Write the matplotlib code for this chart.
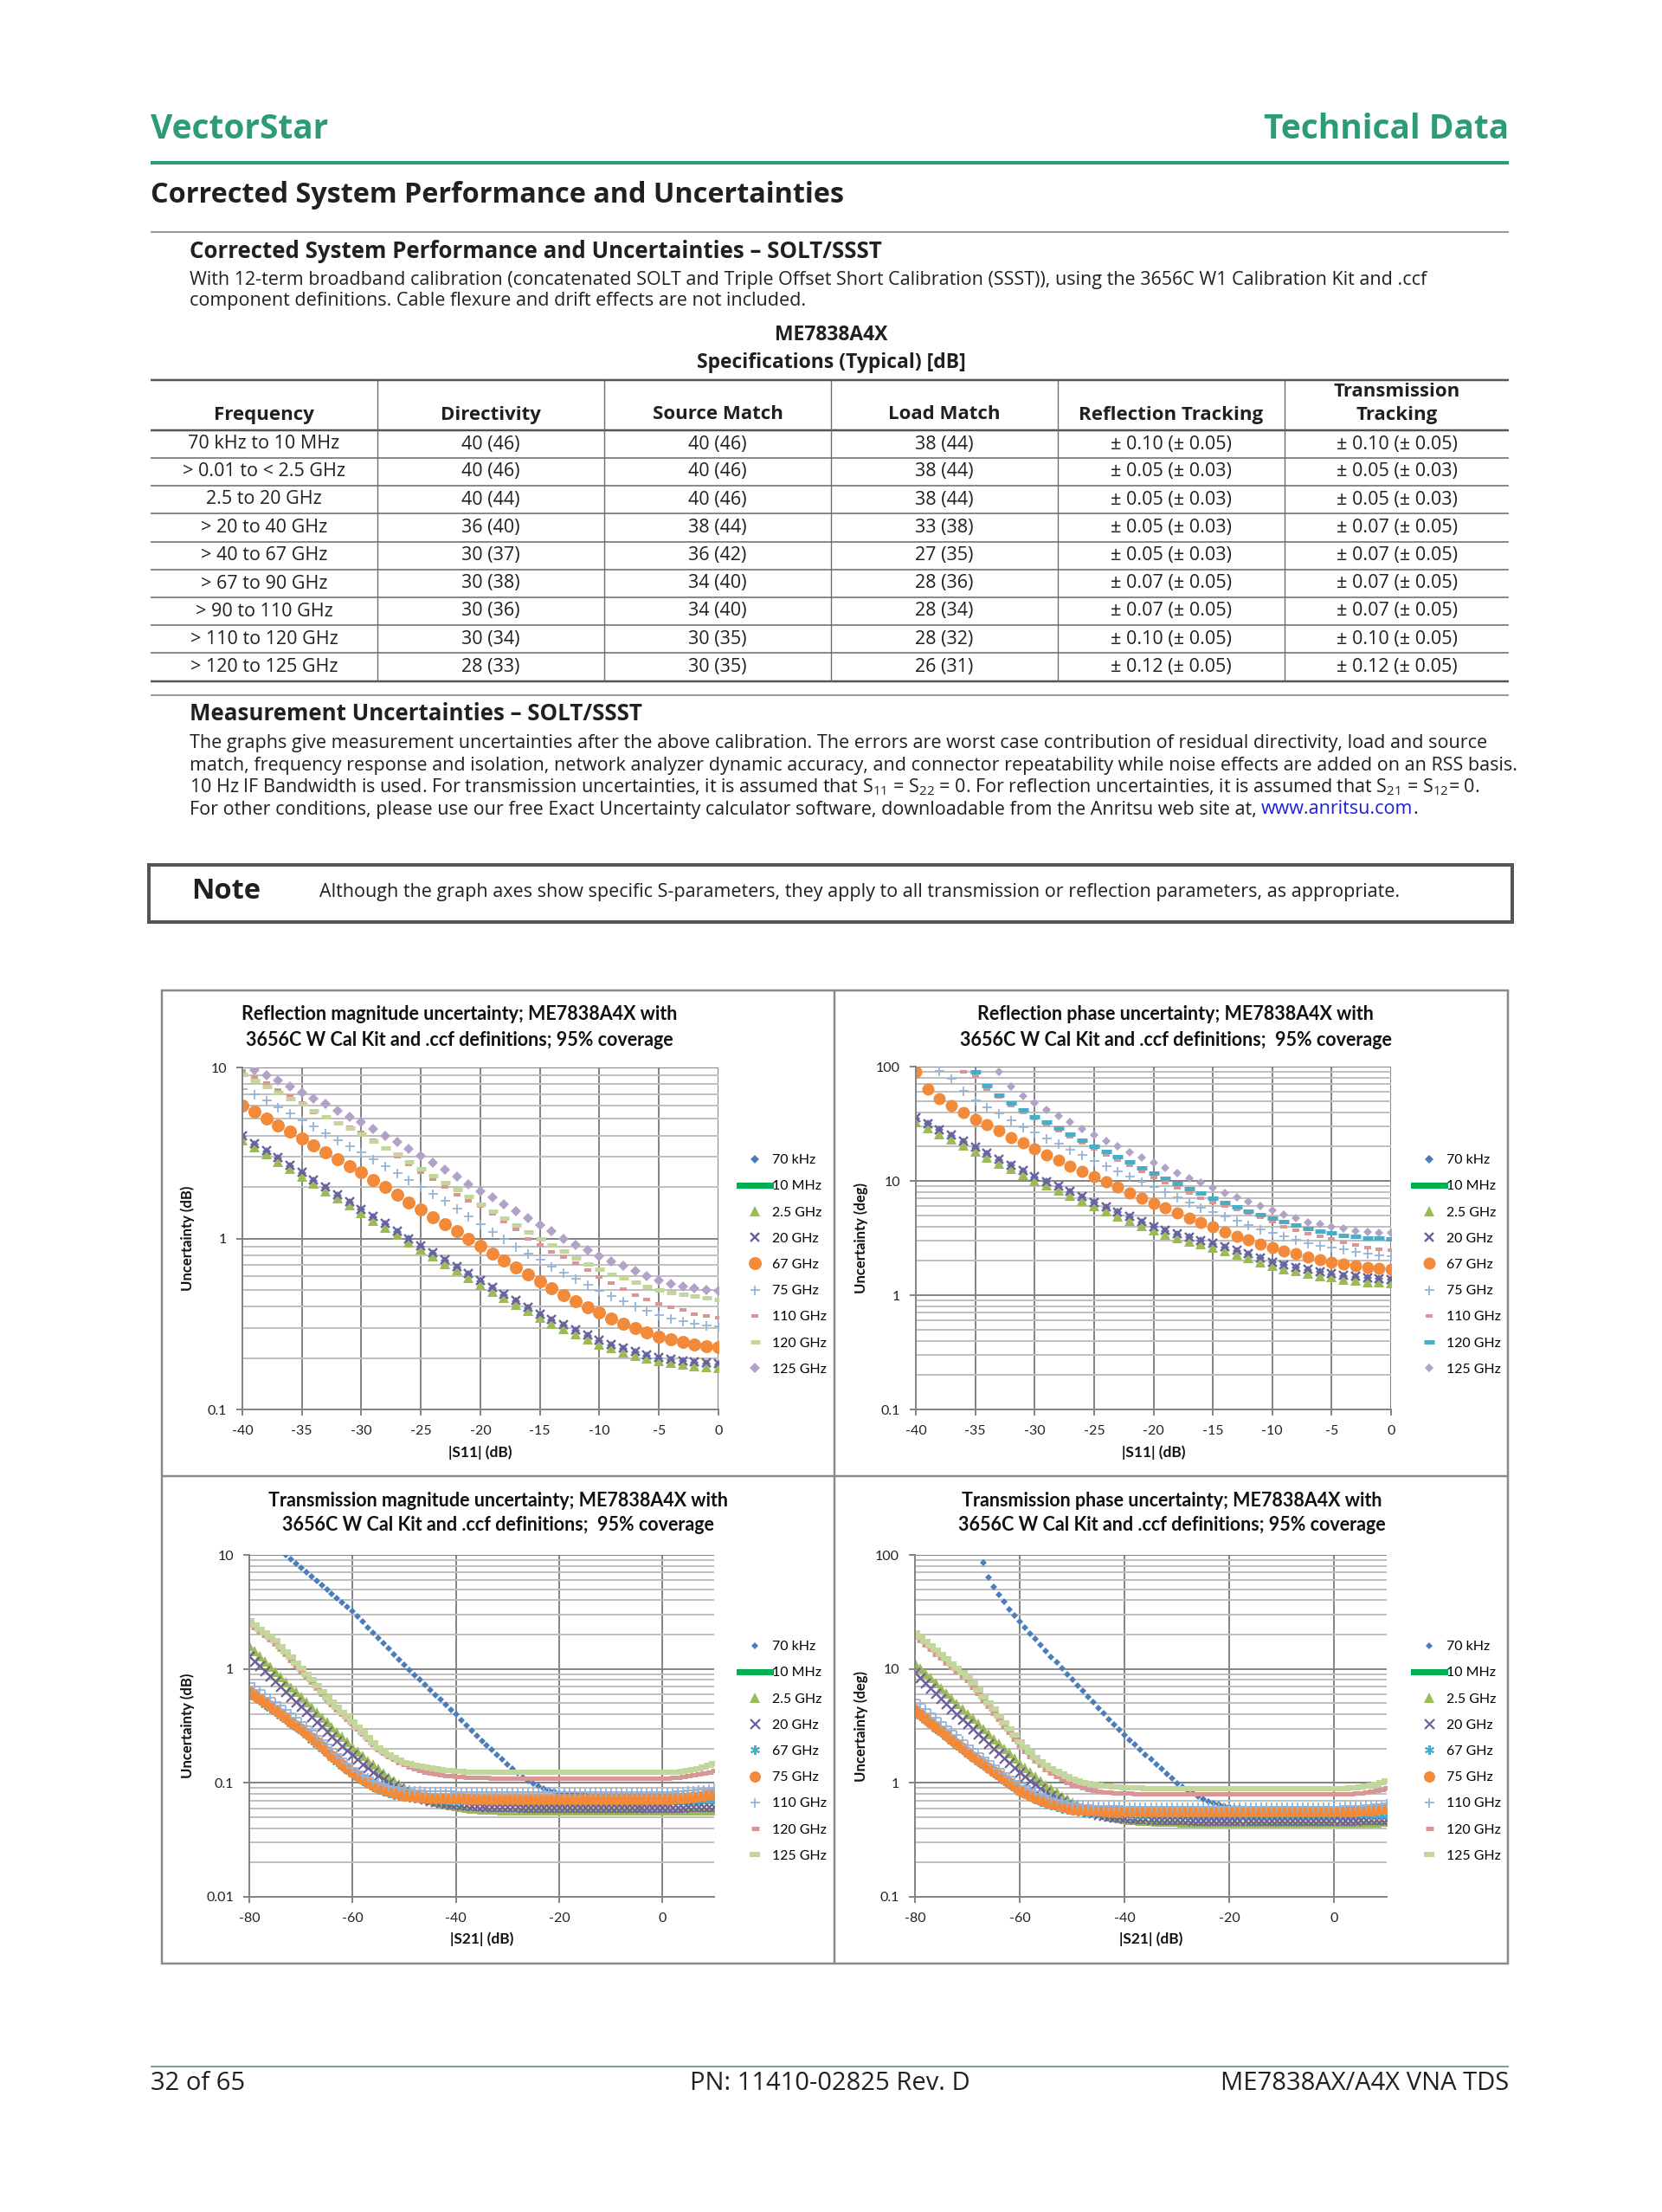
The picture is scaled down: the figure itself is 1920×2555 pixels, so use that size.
import matplotlib
matplotlib.use('Agg')
import matplotlib.pyplot as plt
from matplotlib.lines import Line2D
from matplotlib.patches import Rectangle
from matplotlib.ticker import LogLocator, FuncFormatter, NullFormatter

W, H = 1920, 2555
PAGE_FONT = 'Open Sans'
CHART_FONT = 'Lato'
plt.rcParams['font.family'] = [PAGE_FONT, 'DejaVu Sans']
plt.rcParams['axes.unicode_minus'] = False
plt.rcParams['mathtext.fontset'] = 'custom'
plt.rcParams['mathtext.rm'] = PAGE_FONT
plt.rcParams['mathtext.it'] = PAGE_FONT + ':italic'
plt.rcParams['mathtext.bf'] = PAGE_FONT + ':bold'

GREEN = '#2E9B77'
TEXT = '#231F20'
BODY = 15.5

# ---------------- table data ----------------
table_header = ['Frequency', 'Directivity', 'Source Match', 'Load Match',
                'Reflection Tracking', 'Transmission\nTracking']
freq_bands = ['70 kHz to 10 MHz', '> 0.01 to < 2.5 GHz', '2.5 to 20 GHz', '> 20 to 40 GHz',
              '> 40 to 67 GHz', '> 67 to 90 GHz', '> 90 to 110 GHz', '> 110 to 120 GHz',
              '> 120 to 125 GHz']
directivity = ['40 (46)', '40 (46)', '40 (44)', '36 (40)', '30 (37)', '30 (38)', '30 (36)',
               '30 (34)', '28 (33)']
source_match = ['40 (46)', '40 (46)', '40 (46)', '38 (44)', '36 (42)', '34 (40)', '34 (40)',
                '30 (35)', '30 (35)']
load_match = ['38 (44)', '38 (44)', '38 (44)', '33 (38)', '27 (35)', '28 (36)', '28 (34)',
              '28 (32)', '26 (31)']
refl_tracking = ['± 0.10 (± 0.05)', '± 0.05 (± 0.03)', '± 0.05 (± 0.03)', '± 0.05 (± 0.03)',
                 '± 0.05 (± 0.03)', '± 0.07 (± 0.05)', '± 0.07 (± 0.05)', '± 0.10 (± 0.05)',
                 '± 0.12 (± 0.05)']
trans_tracking = ['± 0.10 (± 0.05)', '± 0.05 (± 0.03)', '± 0.05 (± 0.03)', '± 0.07 (± 0.05)',
                  '± 0.07 (± 0.05)', '± 0.07 (± 0.05)', '± 0.07 (± 0.05)', '± 0.10 (± 0.05)',
                  '± 0.12 (± 0.05)']

# ---------------- chart data ----------------
series_labels = ['70 kHz', '10 MHz', '2.5 GHz', '20 GHz', '67 GHz', '75 GHz',
                 '110 GHz', '120 GHz', '125 GHz']

refl_x = list(range(-40, 1))      # |S11| dB, 1 dB steps
trans_x = list(range(-80, 11))    # |S21| dB, 1 dB steps

# reflection magnitude uncertainty (dB)
rm_70k = [3.93, 3.56, 3.23, 2.93, 2.65, 2.41, 2.18, 1.97, 1.79, 1.62,
          1.47, 1.33, 1.21, 1.09, 0.99, 0.90, 0.818, 0.744, 0.677, 0.616,
          0.560, 0.511, 0.467, 0.429, 0.392, 0.358, 0.333, 0.310, 0.289, 0.269,
          0.251, 0.238, 0.226, 0.216, 0.207, 0.200, 0.195, 0.191, 0.188, 0.186,
          0.184]
rm_10m = []
rm_2g5 = [3.77, 3.42, 3.10, 2.81, 2.55, 2.31, 2.09, 1.89, 1.72, 1.56,
          1.41, 1.27, 1.16, 1.05, 0.950, 0.863, 0.785, 0.713, 0.650, 0.591,
          0.537, 0.490, 0.448, 0.411, 0.376, 0.344, 0.319, 0.297, 0.277, 0.258,
          0.241, 0.228, 0.217, 0.207, 0.199, 0.192, 0.187, 0.183, 0.180, 0.178,
          0.176]
rm_20g = [3.97, 3.60, 3.26, 2.96, 2.68, 2.43, 2.20, 1.99, 1.81, 1.64,
          1.48, 1.34, 1.22, 1.10, 1.00, 0.908, 0.826, 0.751, 0.684, 0.622,
          0.565, 0.516, 0.472, 0.433, 0.396, 0.362, 0.336, 0.313, 0.292, 0.272,
          0.254, 0.240, 0.228, 0.218, 0.209, 0.202, 0.197, 0.193, 0.190, 0.188,
          0.186]
rm_67g = [6.00, 5.50, 5.00, 4.60, 4.20, 3.84, 3.50, 3.20, 2.90, 2.65,
          2.43, 2.20, 2.00, 1.80, 1.63, 1.47, 1.33, 1.21, 1.10, 1.00,
          0.905, 0.820, 0.745, 0.675, 0.615, 0.559, 0.510, 0.465, 0.430, 0.395,
          0.368, 0.340, 0.318, 0.298, 0.281, 0.267, 0.256, 0.247, 0.240, 0.235,
          0.231]
rm_75g = [7.50, 6.95, 6.40, 5.85, 5.40, 4.93, 4.50, 4.10, 3.75, 3.45,
          3.18, 2.90, 2.65, 2.40, 2.20, 2.01, 1.83, 1.66, 1.50, 1.35,
          1.21, 1.09, 0.990, 0.900, 0.820, 0.750, 0.685, 0.630, 0.580, 0.535,
          0.494, 0.460, 0.428, 0.400, 0.377, 0.357, 0.340, 0.327, 0.317, 0.310,
          0.306]
rm_110g = [9.60, 8.80, 8.10, 7.40, 6.80, 6.20, 5.47, 5.10, 4.75, 4.45,
           4.15, 3.75, 3.35, 3.00, 2.70, 2.45, 2.22, 2.00, 1.80, 1.66,
           1.55, 1.40, 1.26, 1.13, 1.00, 0.920, 0.830, 0.780, 0.720, 0.650,
           0.595, 0.550, 0.505, 0.466, 0.438, 0.414, 0.396, 0.380, 0.362, 0.352,
           0.343]
rm_120g = [9.10, 8.40, 7.75, 7.15, 6.60, 6.10, 5.60, 5.15, 4.75, 4.40,
           4.09, 3.73, 3.40, 3.10, 2.80, 2.55, 2.32, 2.12, 1.93, 1.75,
           1.58, 1.44, 1.31, 1.20, 1.09, 1.00, 0.920, 0.840, 0.770, 0.710,
           0.660, 0.620, 0.585, 0.555, 0.525, 0.500, 0.485, 0.470, 0.458, 0.448,
           0.440]
rm_125g = [10.5, 9.70, 9.05, 8.35, 7.75, 7.16, 6.60, 6.10, 5.60, 5.17,
           4.77, 4.37, 4.00, 3.65, 3.34, 3.05, 2.78, 2.53, 2.30, 2.08,
           1.89, 1.73, 1.58, 1.44, 1.32, 1.20, 1.10, 1.00, 0.920, 0.850,
           0.790, 0.735, 0.690, 0.645, 0.605, 0.570, 0.545, 0.525, 0.510, 0.500,
           0.493]

# reflection phase uncertainty (deg)
rp_70k = [35.2, 31.4, 27.9, 24.8, 22.0, 19.5, 17.3, 15.3, 13.7, 12.2,
          10.8, 9.80, 8.90, 8.00, 7.20, 6.45, 5.85, 5.30, 4.80, 4.35,
          3.96, 3.66, 3.42, 3.19, 2.99, 2.81, 2.61, 2.44, 2.28, 2.10,
          1.93, 1.83, 1.74, 1.66, 1.59, 1.53, 1.48, 1.44, 1.41, 1.39,
          1.37]
rp_10m = []
rp_2g5 = [32.5, 29.0, 25.8, 23.0, 20.4, 18.1, 16.0, 14.2, 12.7, 11.3,
          10.0, 9.10, 8.30, 7.45, 6.70, 6.00, 5.40, 4.90, 4.45, 4.05,
          3.68, 3.40, 3.17, 2.96, 2.78, 2.60, 2.42, 2.26, 2.11, 1.95,
          1.80, 1.70, 1.62, 1.55, 1.48, 1.43, 1.38, 1.34, 1.31, 1.29,
          1.27]
rp_20g = [35.6, 31.7, 28.2, 25.1, 22.2, 19.7, 17.5, 15.5, 13.8, 12.3,
          10.9, 9.90, 9.00, 8.10, 7.30, 6.50, 5.90, 5.35, 4.85, 4.40,
          4.00, 3.70, 3.45, 3.22, 3.02, 2.84, 2.64, 2.46, 2.30, 2.12,
          1.95, 1.85, 1.76, 1.68, 1.61, 1.55, 1.50, 1.46, 1.42, 1.40,
          1.38]
rp_67g = [90.0, 63.0, 52.5, 45.7, 39.4, 34.6, 31.0, 27.5, 24.0, 21.5,
          19.1, 17.0, 15.2, 13.5, 12.1, 10.9, 9.80, 8.80, 7.90, 7.10,
          6.40, 5.80, 5.20, 4.70, 4.30, 3.95, 3.60, 3.30, 3.05, 2.82,
          2.62, 2.45, 2.30, 2.15, 2.05, 1.95, 1.87, 1.80, 1.75, 1.72,
          1.69]
rp_75g = [140.0, 115.0, 91.0, 79.0, 61.0, 51.0, 44.0, 39.0, 34.0, 29.6,
          26.4, 23.6, 21.1, 18.9, 16.8, 14.9, 13.5, 12.2, 11.0, 9.85,
          8.85, 8.00, 7.20, 6.50, 5.85, 5.30, 4.85, 4.45, 4.10, 3.78,
          3.50, 3.25, 3.03, 2.85, 2.72, 2.62, 2.50, 2.40, 2.31, 2.25,
          2.20]
rp_110g = [200.0, 170.0, 140.0, 115.0, 90.0, 83.0, 64.0, 54.0, 46.0, 40.0,
           35.0, 31.0, 27.5, 24.5, 21.5, 19.0, 17.0, 15.2, 13.6, 12.1,
           10.8, 9.70, 8.70, 7.80, 7.00, 6.50, 6.00, 5.60, 5.20, 4.80,
           4.40, 4.00, 3.70, 3.45, 3.25, 3.10, 2.90, 2.75, 2.62, 2.53,
           2.46]
rp_120g = [300.0, 250.0, 200.0, 160.0, 125.0, 90.0, 68.0, 56.0, 48.0, 41.7,
           36.4, 32.5, 29.0, 25.8, 22.8, 20.1, 18.2, 16.4, 14.7, 13.1,
           11.6, 10.5, 9.50, 8.60, 7.80, 7.10, 6.50, 5.95, 5.45, 5.10,
           4.76, 4.40, 4.10, 3.85, 3.65, 3.49, 3.35, 3.25, 3.18, 3.14,
           3.12]
rp_125g = [600.0, 450.0, 340.0, 250.0, 180.0, 140.0, 112.0, 90.0, 67.5, 55.0,
           47.9, 42.0, 37.0, 32.5, 28.6, 25.3, 22.5, 20.0, 17.8, 16.0,
           14.4, 13.0, 11.7, 10.6, 9.60, 8.70, 7.90, 7.20, 6.60, 6.05,
           5.55, 5.10, 4.70, 4.35, 4.15, 4.00, 3.80, 3.65, 3.55, 3.50,
           3.49]

# transmission magnitude uncertainty (dB), -80 .. 10 dB
tm_70k = [18.5, 16.9, 15.5, 14.2, 13.0, 11.9, 10.9, 10.0, 9.16, 8.39,
          7.69, 7.05, 6.46, 5.92, 5.42, 4.97, 4.55, 4.17, 3.83, 3.51,
          3.21, 2.88, 2.58, 2.32, 2.08, 1.86, 1.67, 1.50, 1.34, 1.20,
          1.08, 0.977, 0.883, 0.800, 0.724, 0.655, 0.593, 0.537, 0.486, 0.440,
          0.398, 0.357, 0.321, 0.288, 0.260, 0.234, 0.213, 0.194, 0.176, 0.160,
          0.146, 0.133, 0.122, 0.112, 0.104, 0.098, 0.093, 0.089, 0.086, 0.084,
          0.082, 0.081, 0.080, 0.0795, 0.079, 0.0785, 0.078, 0.078, 0.078, 0.078,
          0.078, 0.078, 0.078, 0.078, 0.078, 0.078, 0.078, 0.078, 0.078, 0.078,
          0.078, 0.078, 0.078, 0.079, 0.079, 0.079, 0.080, 0.080, 0.081, 0.081,
          0.082]
tm_10m = []
tm_2g5 = [1.59, 1.43, 1.29, 1.16, 1.05, 0.946, 0.853, 0.769, 0.694, 0.627,
          0.565, 0.510, 0.461, 0.416, 0.376, 0.340, 0.307, 0.278, 0.252, 0.228,
          0.207, 0.189, 0.172, 0.157, 0.144, 0.132, 0.121, 0.112, 0.104, 0.097,
          0.091, 0.086, 0.081, 0.077, 0.074, 0.071, 0.0685, 0.0665, 0.0648, 0.0635,
          0.0623, 0.0613, 0.0605, 0.0599, 0.0594, 0.0590, 0.0586, 0.0583, 0.0581, 0.0579,
          0.0577, 0.0575, 0.0574, 0.0573, 0.0572, 0.0571, 0.057, 0.057, 0.057, 0.057,
          0.057, 0.057, 0.057, 0.057, 0.057, 0.057, 0.057, 0.057, 0.057, 0.057,
          0.057, 0.057, 0.057, 0.057, 0.057, 0.057, 0.057, 0.057, 0.057, 0.057,
          0.057, 0.057, 0.057, 0.057, 0.0571, 0.0571, 0.0572, 0.0572, 0.0573, 0.0574,
          0.0575]
tm_20g = [1.30, 1.17, 1.06, 0.955, 0.861, 0.777, 0.701, 0.633, 0.571, 0.516,
          0.465, 0.420, 0.380, 0.343, 0.311, 0.282, 0.255, 0.231, 0.210, 0.192,
          0.175, 0.160, 0.146, 0.135, 0.124, 0.115, 0.107, 0.100, 0.094, 0.0887,
          0.0842, 0.0804, 0.0771, 0.0744, 0.0721, 0.0701, 0.0685, 0.0672, 0.0661, 0.0652,
          0.0644, 0.0638, 0.0633, 0.0628, 0.0625, 0.0622, 0.0620, 0.0618, 0.0616, 0.0615,
          0.0614, 0.0613, 0.0612, 0.0611, 0.061, 0.061, 0.061, 0.061, 0.061, 0.061,
          0.061, 0.061, 0.061, 0.061, 0.061, 0.061, 0.061, 0.061, 0.061, 0.061,
          0.061, 0.061, 0.061, 0.061, 0.061, 0.061, 0.061, 0.061, 0.061, 0.061,
          0.061, 0.061, 0.061, 0.0611, 0.0611, 0.0612, 0.0612, 0.0613, 0.0614, 0.0615,
          0.0616]
tm_67g = [0.615, 0.570, 0.527, 0.488, 0.452, 0.421, 0.388, 0.359, 0.332, 0.307,
          0.285, 0.261, 0.239, 0.219, 0.200, 0.183, 0.168, 0.154, 0.141, 0.130,
          0.119, 0.111, 0.104, 0.098, 0.092, 0.087, 0.084, 0.081, 0.079, 0.077,
          0.0755, 0.0745, 0.0737, 0.0730, 0.0725, 0.0720, 0.0717, 0.0714, 0.0712, 0.0710,
          0.0708, 0.0707, 0.0706, 0.0705, 0.0704, 0.0703, 0.0702, 0.0701, 0.070, 0.070,
          0.070, 0.070, 0.070, 0.070, 0.070, 0.070, 0.070, 0.070, 0.070, 0.070,
          0.070, 0.070, 0.070, 0.070, 0.070, 0.070, 0.070, 0.070, 0.070, 0.070,
          0.070, 0.070, 0.070, 0.070, 0.070, 0.070, 0.070, 0.070, 0.070, 0.070,
          0.070, 0.0702, 0.0704, 0.0706, 0.0708, 0.0710, 0.0712, 0.0714, 0.0716, 0.0718,
          0.0720]
tm_75g = [0.634, 0.590, 0.548, 0.510, 0.474, 0.440, 0.405, 0.373, 0.345, 0.319,
          0.296, 0.271, 0.248, 0.227, 0.208, 0.190, 0.174, 0.160, 0.146, 0.134,
          0.123, 0.115, 0.107, 0.101, 0.095, 0.090, 0.087, 0.084, 0.082, 0.080,
          0.078, 0.077, 0.076, 0.075, 0.0745, 0.074, 0.0738, 0.0735, 0.0733, 0.0731,
          0.0730, 0.0728, 0.0726, 0.0725, 0.0724, 0.0723, 0.0722, 0.0722, 0.0721, 0.0721,
          0.0720, 0.072, 0.072, 0.072, 0.072, 0.072, 0.072, 0.072, 0.072, 0.072,
          0.072, 0.072, 0.072, 0.072, 0.072, 0.072, 0.072, 0.072, 0.072, 0.072,
          0.072, 0.072, 0.072, 0.072, 0.072, 0.072, 0.072, 0.072, 0.072, 0.072,
          0.072, 0.0722, 0.0725, 0.0730, 0.0735, 0.0742, 0.0750, 0.0760, 0.0770, 0.0785,
          0.080]
tm_110g = [0.755, 0.700, 0.650, 0.600, 0.555, 0.515, 0.475, 0.440, 0.405, 0.372,
           0.342, 0.312, 0.285, 0.260, 0.238, 0.217, 0.198, 0.180, 0.164, 0.149,
           0.136, 0.126, 0.118, 0.111, 0.105, 0.100, 0.097, 0.094, 0.092, 0.090,
           0.088, 0.087, 0.086, 0.0855, 0.085, 0.0847, 0.0845, 0.0842, 0.0840, 0.0838,
           0.0836, 0.0835, 0.0834, 0.0833, 0.0832, 0.0832, 0.0831, 0.0831, 0.083, 0.083,
           0.083, 0.083, 0.083, 0.083, 0.083, 0.083, 0.083, 0.083, 0.083, 0.083,
           0.083, 0.083, 0.083, 0.083, 0.083, 0.083, 0.083, 0.083, 0.083, 0.083,
           0.083, 0.083, 0.083, 0.083, 0.083, 0.083, 0.083, 0.083, 0.083, 0.083,
           0.083, 0.0832, 0.0835, 0.0840, 0.0845, 0.0852, 0.0860, 0.0870, 0.0880, 0.0895,
           0.091]
tm_120g = [2.50, 2.30, 2.12, 1.95, 1.80, 1.66, 1.48, 1.33, 1.19, 1.07,
           0.950, 0.850, 0.760, 0.675, 0.600, 0.535, 0.485, 0.440, 0.400, 0.362,
           0.330, 0.296, 0.267, 0.241, 0.218, 0.197, 0.182, 0.170, 0.160, 0.151,
           0.144, 0.138, 0.133, 0.129, 0.125, 0.122, 0.120, 0.118, 0.116, 0.115,
           0.114, 0.113, 0.112, 0.112, 0.111, 0.111, 0.111, 0.110, 0.110, 0.110,
           0.110, 0.110, 0.110, 0.110, 0.110, 0.110, 0.110, 0.110, 0.110, 0.110,
           0.110, 0.110, 0.110, 0.110, 0.110, 0.110, 0.110, 0.110, 0.110, 0.110,
           0.110, 0.110, 0.110, 0.110, 0.110, 0.110, 0.110, 0.110, 0.110, 0.110,
           0.110, 0.110, 0.111, 0.112, 0.113, 0.115, 0.117, 0.119, 0.122, 0.125,
           0.129]
tm_125g = [2.66, 2.44, 2.24, 2.06, 1.90, 1.76, 1.57, 1.41, 1.26, 1.13,
           1.01, 0.900, 0.800, 0.710, 0.630, 0.560, 0.510, 0.460, 0.415, 0.378,
           0.343, 0.308, 0.277, 0.250, 0.225, 0.203, 0.188, 0.176, 0.166, 0.158,
           0.151, 0.147, 0.143, 0.140, 0.137, 0.135, 0.133, 0.131, 0.129, 0.128,
           0.127, 0.126, 0.125, 0.125, 0.124, 0.124, 0.124, 0.123, 0.123, 0.123,
           0.123, 0.123, 0.123, 0.123, 0.123, 0.123, 0.123, 0.123, 0.123, 0.123,
           0.123, 0.123, 0.123, 0.123, 0.123, 0.123, 0.123, 0.123, 0.123, 0.123,
           0.123, 0.123, 0.123, 0.123, 0.123, 0.123, 0.123, 0.123, 0.123, 0.123,
           0.123, 0.123, 0.124, 0.125, 0.126, 0.128, 0.130, 0.133, 0.137, 0.142,
           0.148]

# transmission phase uncertainty (deg), -80 .. 10 dB
tp_70k = [1000.0, 840.0, 700.0, 590.0, 500.0, 420.0, 350.0, 300.0, 250.0, 210.0,
          180.0, 150.0, 125.0, 86.0, 63.0, 52.0, 45.0, 38.8, 33.5, 29.3,
          25.8, 23.0, 20.5, 18.2, 16.2, 14.4, 12.8, 11.4, 10.1, 9.00,
          8.00, 7.15, 6.40, 5.70, 5.10, 4.55, 4.06, 3.63, 3.24, 2.90,
          2.64, 2.39, 2.16, 1.96, 1.77, 1.60, 1.45, 1.32, 1.20, 1.09,
          0.99, 0.92, 0.86, 0.81, 0.76, 0.72, 0.69, 0.665, 0.645, 0.63,
          0.62, 0.61, 0.605, 0.60, 0.597, 0.595, 0.593, 0.592, 0.591, 0.59,
          0.59, 0.59, 0.59, 0.59, 0.59, 0.59, 0.59, 0.59, 0.59, 0.59,
          0.59, 0.59, 0.59, 0.588, 0.586, 0.584, 0.582, 0.58, 0.578, 0.576,
          0.575]
tp_10m = []
tp_2g5 = [11.3, 10.2, 9.18, 8.28, 7.46, 6.73, 6.07, 5.47, 4.93, 4.45,
          4.03, 3.64, 3.29, 2.97, 2.69, 2.43, 2.20, 1.99, 1.81, 1.64,
          1.49, 1.36, 1.24, 1.14, 1.04, 0.960, 0.887, 0.823, 0.767, 0.718,
          0.676, 0.640, 0.609, 0.583, 0.560, 0.541, 0.526, 0.512, 0.501, 0.492,
          0.485, 0.478, 0.473, 0.468, 0.465, 0.462, 0.459, 0.457, 0.456, 0.455,
          0.454, 0.453, 0.452, 0.451, 0.45, 0.45, 0.45, 0.45, 0.45, 0.45,
          0.45, 0.45, 0.45, 0.45, 0.45, 0.45, 0.45, 0.45, 0.45, 0.45,
          0.45, 0.45, 0.45, 0.45, 0.45, 0.45, 0.45, 0.45, 0.45, 0.45,
          0.45, 0.45, 0.45, 0.45, 0.451, 0.451, 0.452, 0.452, 0.453, 0.454,
          0.455]
tp_20g = [9.20, 8.28, 7.46, 6.73, 6.07, 5.47, 4.93, 4.45, 4.01, 3.61,
          3.29, 2.98, 2.69, 2.44, 2.20, 1.99, 1.81, 1.65, 1.50, 1.36,
          1.25, 1.14, 1.05, 0.969, 0.897, 0.834, 0.779, 0.731, 0.690, 0.654,
          0.624, 0.598, 0.577, 0.558, 0.543, 0.530, 0.519, 0.510, 0.503, 0.497,
          0.492, 0.488, 0.485, 0.482, 0.480, 0.478, 0.476, 0.475, 0.474, 0.473,
          0.472, 0.471, 0.471, 0.47, 0.47, 0.47, 0.47, 0.47, 0.47, 0.47,
          0.47, 0.47, 0.47, 0.47, 0.47, 0.47, 0.47, 0.47, 0.47, 0.47,
          0.47, 0.47, 0.47, 0.47, 0.47, 0.47, 0.47, 0.47, 0.47, 0.47,
          0.47, 0.47, 0.47, 0.47, 0.47, 0.471, 0.471, 0.472, 0.472, 0.473,
          0.474]
tp_67g = [4.24, 3.89, 3.57, 3.28, 3.00, 2.76, 2.53, 2.33, 2.13, 1.96,
          1.79, 1.66, 1.54, 1.43, 1.32, 1.22, 1.13, 1.05, 0.97, 0.90,
          0.835, 0.795, 0.757, 0.720, 0.690, 0.665, 0.640, 0.620, 0.600, 0.585,
          0.572, 0.565, 0.559, 0.555, 0.551, 0.548, 0.546, 0.544, 0.543, 0.542,
          0.541, 0.54, 0.54, 0.54, 0.54, 0.54, 0.54, 0.54, 0.54, 0.54,
          0.54, 0.54, 0.54, 0.54, 0.54, 0.54, 0.54, 0.54, 0.54, 0.54,
          0.54, 0.54, 0.54, 0.54, 0.54, 0.54, 0.54, 0.54, 0.54, 0.54,
          0.54, 0.54, 0.54, 0.54, 0.54, 0.54, 0.54, 0.54, 0.54, 0.54,
          0.54, 0.54, 0.539, 0.538, 0.537, 0.535, 0.533, 0.531, 0.529, 0.527,
          0.525]
tp_75g = [4.37, 4.01, 3.68, 3.38, 3.10, 2.85, 2.61, 2.40, 2.20, 2.02,
          1.85, 1.71, 1.59, 1.47, 1.36, 1.26, 1.17, 1.08, 1.00, 0.93,
          0.86, 0.82, 0.78, 0.74, 0.71, 0.685, 0.66, 0.64, 0.62, 0.605,
          0.59, 0.585, 0.58, 0.576, 0.573, 0.57, 0.568, 0.566, 0.565, 0.564,
          0.563, 0.562, 0.562, 0.561, 0.561, 0.56, 0.56, 0.56, 0.56, 0.56,
          0.56, 0.56, 0.56, 0.56, 0.56, 0.56, 0.56, 0.56, 0.56, 0.56,
          0.56, 0.56, 0.56, 0.56, 0.56, 0.56, 0.56, 0.56, 0.56, 0.56,
          0.56, 0.56, 0.56, 0.56, 0.56, 0.56, 0.56, 0.56, 0.56, 0.56,
          0.56, 0.561, 0.562, 0.564, 0.567, 0.57, 0.574, 0.579, 0.585, 0.592,
          0.60]
tp_110g = [5.35, 4.90, 4.48, 4.10, 3.75, 3.43, 3.14, 2.87, 2.62, 2.37,
           2.15, 1.98, 1.82, 1.68, 1.55, 1.43, 1.32, 1.22, 1.13, 1.05,
           0.98, 0.93, 0.88, 0.84, 0.80, 0.77, 0.74, 0.715, 0.695, 0.675,
           0.66, 0.65, 0.642, 0.636, 0.632, 0.628, 0.626, 0.624, 0.623, 0.622,
           0.621, 0.62, 0.62, 0.62, 0.62, 0.62, 0.62, 0.62, 0.62, 0.62,
           0.62, 0.62, 0.62, 0.62, 0.62, 0.62, 0.62, 0.62, 0.62, 0.62,
           0.62, 0.62, 0.62, 0.62, 0.62, 0.62, 0.62, 0.62, 0.62, 0.62,
           0.62, 0.62, 0.62, 0.62, 0.62, 0.62, 0.62, 0.62, 0.62, 0.62,
           0.62, 0.621, 0.622, 0.624, 0.627, 0.63, 0.634, 0.639, 0.645, 0.652,
           0.66]
tp_120g = [19.3, 17.6, 16.1, 14.8, 13.5, 12.4, 11.3, 10.3, 9.50, 8.65,
           7.90, 6.93, 6.09, 5.33, 4.68, 4.10, 3.60, 3.15, 2.76, 2.43,
           2.14, 1.90, 1.71, 1.55, 1.42, 1.31, 1.22, 1.14, 1.07, 1.01,
           0.96, 0.93, 0.90, 0.875, 0.86, 0.845, 0.835, 0.828, 0.822, 0.817,
           0.813, 0.81, 0.808, 0.806, 0.805, 0.804, 0.803, 0.802, 0.801, 0.80,
           0.80, 0.80, 0.80, 0.80, 0.80, 0.80, 0.80, 0.80, 0.80, 0.80,
           0.80, 0.80, 0.80, 0.80, 0.80, 0.80, 0.80, 0.80, 0.80, 0.80,
           0.80, 0.80, 0.80, 0.80, 0.80, 0.80, 0.80, 0.80, 0.80, 0.80,
           0.80, 0.80, 0.803, 0.807, 0.812, 0.82, 0.83, 0.845, 0.86, 0.88,
           0.90]
tp_125g = [20.7, 18.9, 17.3, 15.9, 14.5, 13.3, 12.2, 11.1, 10.2, 9.30,
           8.50, 7.45, 6.55, 5.73, 5.03, 4.41, 3.87, 3.39, 2.97, 2.61,
           2.30, 2.05, 1.85, 1.68, 1.54, 1.43, 1.34, 1.26, 1.19, 1.13,
           1.08, 1.04, 1.01, 0.99, 0.97, 0.955, 0.94, 0.93, 0.92, 0.915,
           0.91, 0.905, 0.90, 0.90, 0.897, 0.895, 0.895, 0.893, 0.892, 0.891,
           0.89, 0.89, 0.89, 0.89, 0.89, 0.89, 0.89, 0.89, 0.89, 0.89,
           0.89, 0.89, 0.89, 0.89, 0.89, 0.89, 0.89, 0.89, 0.89, 0.89,
           0.89, 0.89, 0.89, 0.89, 0.89, 0.89, 0.89, 0.89, 0.89, 0.89,
           0.89, 0.89, 0.895, 0.90, 0.91, 0.92, 0.935, 0.95, 0.97, 1.00,
           1.04]


fig = plt.figure(figsize=(W / 100, H / 100), dpi=100)


def fx(x):
    return x / W


def fy(y):
    return 1 - y / H


def pt(px):
    return px * 0.72


def text(x, y, s, size, weight='normal', ha='left', color=TEXT, family=PAGE_FONT, va='center'):
    return fig.text(fx(x), fy(y), s, fontsize=size, fontweight=weight, ha=ha, va=va,
                    color=color, family=[family, 'DejaVu Sans'])


def hline(x0, x1, y, color, width):
    fig.add_artist(Line2D([fx(x0), fx(x1)], [fy(y), fy(y)], color=color, lw=pt(width),
                          transform=fig.transFigure, solid_capstyle='butt'))


def vline(x, y0, y1, color, width):
    fig.add_artist(Line2D([fx(x), fx(x)], [fy(y0), fy(y1)], color=color, lw=pt(width),
                          transform=fig.transFigure, solid_capstyle='butt'))


# ---------------- page header ----------------
text(174, 150, 'VectorStar', 28, 'bold', color=GREEN)
text(1743, 150, 'Technical Data', 28, 'bold', ha='right', color=GREEN)
hline(174, 1743, 188, GREEN, 4)
text(174, 225, 'Corrected System Performance and Uncertainties', 23.3, 'bold')
hline(174, 1743, 268, '#9A9A9A', 2)

text(219, 290, 'Corrected System Performance and Uncertainties – SOLT/SSST', 18.6, 'bold')
text(219, 323, 'With 12-term broadband calibration (concatenated SOLT and Triple Offset Short '
     'Calibration (SSST)), using the 3656C W1 Calibration Kit and .ccf', BODY)
text(219, 348, 'component definitions. Cable flexure and drift effects are not included.', BODY)
text(960, 387, 'ME7838A4X', 16.5, 'bold', ha='center')
text(960, 419, 'Specifications (Typical) [dB]', 16.5, 'bold', ha='center')

# ---------------- table ----------------
col_x = [174, 436, 698, 960, 1222, 1484, 1743]
row_lines = [497, 529, 561, 593, 626, 658, 690, 722, 754, 787]
hline(174, 1743, 439, '#555555', 2.5)
for i, yl in enumerate(row_lines):
    edge = i in (0, len(row_lines) - 1)
    hline(174, 1743, yl, '#555555' if edge else '#6E6E6E', 2.5 if edge else 1.6)
for xc in col_x[1:-1]:
    vline(xc, 439, 787, '#6E6E6E', 1.4)
for j, head in enumerate(table_header):
    cx = (col_x[j] + col_x[j + 1]) / 2
    if '\n' in head:
        a, b = head.split('\n')
        text(cx, 453, a, 16, 'bold', ha='center')
        text(cx, 479, b, 16, 'bold', ha='center')
    else:
        text(cx, 479, head, 16, 'bold', ha='center')
columns = [freq_bands, directivity, source_match, load_match, refl_tracking, trans_tracking]
for j, col in enumerate(columns):
    cx = (col_x[j] + col_x[j + 1]) / 2
    for i, val in enumerate(col):
        cy = (row_lines[i] + row_lines[i + 1]) / 2
        text(cx, cy, val, BODY, ha='center')

hline(174, 1743, 803, '#9A9A9A', 2)

# ---------------- measurement text ----------------
text(219, 825, 'Measurement Uncertainties – SOLT/SSST', 18.6, 'bold')
text(219, 858, 'The graphs give measurement uncertainties after the above calibration. The errors '
     'are worst case contribution of residual directivity, load and source', BODY)
text(219, 884, 'match, frequency response and isolation, network analyzer dynamic accuracy, and '
     'connector repeatability while noise effects are added on an RSS basis.', BODY)
text(219, 909, '10 Hz IF Bandwidth is used. For transmission uncertainties, it is assumed that '
     'S$_{11}$ = S$_{22}$ = 0. For reflection uncertainties, it is assumed that '
     'S$_{21}$ = S$_{12}$= 0.', BODY)
t_last = text(219, 935, 'For other conditions, please use our free Exact Uncertainty calculator '
              'software, downloadable from the Anritsu web site at,', BODY)
renderer = fig.canvas.get_renderer()
x_end = t_last.get_window_extent(renderer).x1
t_link = text(x_end + 5, 935, 'www.anritsu.com', BODY, color='#1F1FD0')
x_end2 = t_link.get_window_extent(renderer).x1
text(x_end2, 935, '.', BODY)

# ---------------- note box ----------------
fig.add_artist(Rectangle((fx(172), fy(1065)), (1747 - 172) / W, (1065 - 999) / H,
                         transform=fig.transFigure, fill=False, edgecolor='#555555', lw=pt(4)))
text(221, 1029, 'Note', 23.5, 'bold')
text(369, 1031, 'Although the graph axes show specific S-parameters, they apply to all '
     'transmission or reflection parameters, as appropriate.', BODY)

# ---------------- chart frames ----------------
FRAME = '#8A8A8A'
fig.add_artist(Rectangle((fx(187), fy(2268)), (1742 - 187) / W, (2268 - 1144) / H,
                         transform=fig.transFigure, fill=False, edgecolor=FRAME, lw=pt(2.5)))
vline(964, 1144, 2268, FRAME, 2.5)
hline(187, 1742, 1705, FRAME, 2.5)

# ---------------- chart styles ----------------
C_BLUE = '#4A7EBB'
C_GLINE = '#00B050'
C_OLIVE = '#9BBB59'
C_PURPLE = '#6E5F9C'
C_ORANGE = '#F28A3A'
C_LBLUE = '#95B3D7'
C_PINK = '#D99694'
C_LGREEN = '#C3D69B'
C_LAV = '#B3A2C7'
C_TEAL = '#4BACC6'

line10m = dict(color=C_GLINE, lw=pt(7), linestyle='-', marker=None)


def mk(marker, color, size_px, mew_px=0.0):
    return dict(linestyle='none', marker=marker, color=color, ms=pt(size_px), mew=pt(mew_px))


refl_mag_styles = [mk('D', C_BLUE, 7.5), line10m, mk('^', C_OLIVE, 12), mk('x', C_PURPLE, 10, 2.4),
                   mk('o', C_ORANGE, 15), mk('+', C_LBLUE, 11, 1.8), mk('_', C_PINK, 8, 4),
                   mk('_', C_LGREEN, 11, 5), mk('D', C_LAV, 8.5)]
refl_ph_styles = [mk('D', C_BLUE, 7.5), line10m, mk('^', C_OLIVE, 12), mk('x', C_PURPLE, 10, 2.4),
                  mk('o', C_ORANGE, 14), mk('+', C_LBLUE, 11, 1.8), mk('_', C_PINK, 8, 4),
                  mk('_', C_TEAL, 12, 5), mk('D', C_LAV, 7)]
trans_styles = [mk('D', C_BLUE, 6), line10m, mk('^', C_OLIVE, 12), mk('x', C_PURPLE, 11, 2.2),
                mk((6, 2, 0), C_TEAL, 11, 2.0), mk('o', C_ORANGE, 13), mk('+', C_LBLUE, 11, 1.8),
                mk('_', C_PINK, 9, 5), mk('_', C_LGREEN, 12, 6)]


def log_label(v, pos):
    return '{:g}'.format(v)


def make_chart(box, x, series, styles, xlim, xticks, ylim, title, xlabel, ylabel,
               title_cx, title_y, ylabel_x, xlabel_y, legend_xy):
    l, t, r, b = box
    ax = fig.add_axes([fx(l), fy(b), (r - l) / W, (b - t) / H])
    ax.set_yscale('log')
    ax.set_xlim(*xlim)
    ax.set_ylim(*ylim)
    ax.set_axisbelow(True)
    ax.set_xticks(xticks)
    ax.yaxis.set_major_locator(LogLocator(base=10))
    ax.yaxis.set_minor_locator(LogLocator(base=10, subs=(2, 3, 4, 5, 6, 7, 8, 9)))
    ax.yaxis.set_major_formatter(FuncFormatter(log_label))
    ax.yaxis.set_minor_formatter(NullFormatter())
    ax.grid(which='major', axis='both', color='#858585', lw=pt(2))
    ax.grid(which='minor', axis='y', color='#C0C0C0', lw=pt(2))
    ax.tick_params(which='major', direction='out', length=5, width=pt(2), color='#858585',
                   labelsize=11.5, pad=8, labelcolor='#222222')
    ax.tick_params(which='minor', length=0)
    for lab in ax.get_xticklabels() + ax.get_yticklabels():
        lab.set_family([CHART_FONT, 'DejaVu Sans'])
    for s in ('top', 'right'):
        ax.spines[s].set_visible(False)
    for s in ('left', 'bottom'):
        ax.spines[s].set_color('#858585')
        ax.spines[s].set_linewidth(pt(2))
    for label, yv, st in zip(series_labels, series, styles):
        if len(yv):
            ax.plot(x, yv, label=label, **st)
        else:
            ax.plot([], [], label=label, **st)
    t1, t2 = title
    text(title_cx, title_y, t1, 15.5, 'bold', ha='center', family=CHART_FONT, color='#111111')
    text(title_cx, title_y + 29, t2, 15.5, 'bold', ha='center', family=CHART_FONT, color='#111111')
    text((l + r) / 2, xlabel_y, xlabel, 12.5, 'bold', ha='center', family=CHART_FONT, color='#111111')
    fig.text(fx(ylabel_x), fy((t + b) / 2), ylabel, rotation=90, fontsize=12, fontweight='bold',
             ha='center', va='center', family=[CHART_FONT, 'DejaVu Sans'], color='#111111')
    lx, ly = legend_xy
    ax.legend(loc='upper left', bbox_to_anchor=(fx(lx), fy(ly)), bbox_transform=fig.transFigure,
              frameon=False, borderpad=0, borderaxespad=0, handlelength=2.3, handletextpad=0.1,
              labelspacing=1.02, numpoints=1,
              prop={'family': [CHART_FONT, 'DejaVu Sans'], 'size': 11.4})
    return ax


make_chart((280, 1233, 830, 1628), refl_x,
           [rm_70k, rm_10m, rm_2g5, rm_20g, rm_67g, rm_75g, rm_110g, rm_120g, rm_125g],
           refl_mag_styles, (-40, 0), list(range(-40, 1, 5)), (0.1, 10),
           ('Reflection magnitude uncertainty; ME7838A4X with',
            '3656C W Cal Kit and .ccf definitions; 95% coverage'),
           '|S11| (dB)', 'Uncertainty (dB)', 531, 1172, 217, 1678, (854, 1333))

make_chart((1058, 1232, 1607, 1628), refl_x,
           [rp_70k, rp_10m, rp_2g5, rp_20g, rp_67g, rp_75g, rp_110g, rp_120g, rp_125g],
           refl_ph_styles, (-40, 0), list(range(-40, 1, 5)), (0.1, 100),
           ('Reflection phase uncertainty; ME7838A4X with',
            '3656C W Cal Kit and .ccf definitions;  95% coverage'),
           '|S11| (dB)', 'Uncertainty (deg)', 1358, 1172, 995, 1678, (1633, 1333))

make_chart((288, 1796, 825, 2191), trans_x,
           [tm_70k, tm_10m, tm_2g5, tm_20g, tm_67g, tm_75g, tm_110g, tm_120g, tm_125g],
           trans_styles, (-80, 10), list(range(-80, 1, 20)), (0.01, 10),
           ('Transmission magnitude uncertainty; ME7838A4X with',
            '3656C W Cal Kit and .ccf definitions;  95% coverage'),
           '|S21| (dB)', 'Uncertainty (dB)', 575, 1733, 217, 2240, (854, 1895))

make_chart((1057, 1796, 1602, 2191), trans_x,
           [tp_70k, tp_10m, tp_2g5, tp_20g, tp_67g, tp_75g, tp_110g, tp_120g, tp_125g],
           trans_styles, (-80, 10), list(range(-80, 1, 20)), (0.1, 100),
           ('Transmission phase uncertainty; ME7838A4X with',
            '3656C W Cal Kit and .ccf definitions; 95% coverage'),
           '|S21| (dB)', 'Uncertainty (deg)', 1354, 1733, 995, 2240, (1633, 1895))

# ---------------- footer ----------------
hline(174, 1743, 2387, '#7F9F95', 2)
text(174, 2406, '32 of 65', 21)
text(959, 2406, 'PN: 11410-02825 Rev. D', 21, ha='center')
text(1743, 2406, 'ME7838AX/A4X VNA TDS', 21, ha='right')

fig.savefig('out.png', dpi=100)
